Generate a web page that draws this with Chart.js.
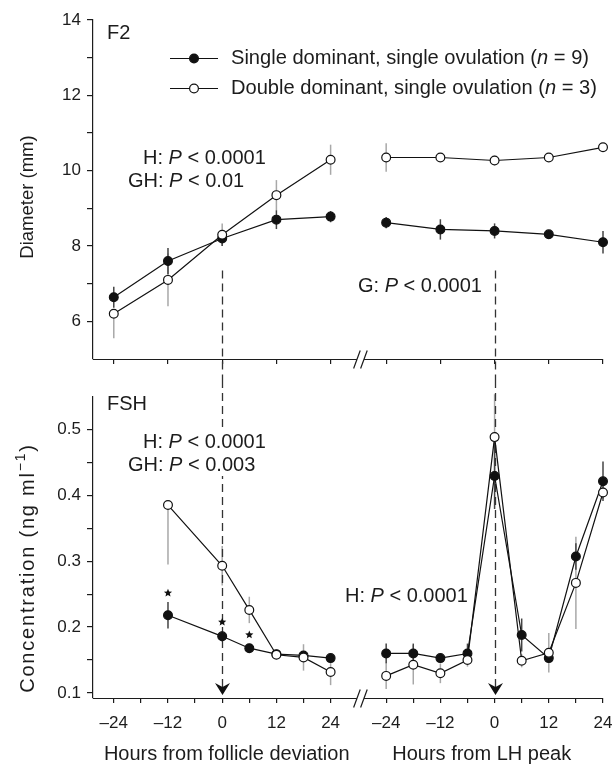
<!DOCTYPE html>
<html>
<head>
<meta charset="utf-8">
<script src="https://cdn.jsdelivr.net/npm/chart.js@4.4.0/dist/chart.umd.min.js"></script>
<style>
  html, body { margin: 0; padding: 0; background: #fff; }
  #wrap { width: 613px; height: 764px; }
  canvas { display: block; }
</style>
</head>
<body>
<div id="wrap">
  <canvas id="diamChart" width="613" height="380"></canvas>
  <canvas id="fshChart" width="613" height="384"></canvas>
</div>
<script>
// ---- F2 diameter (mm) ----
const diamHours = [-24, -12, 0, 12, 24];
const diamSingleDev = [6.64, 7.6, 8.2, 8.7, 8.78];
const diamSingleDevErr = [0.28, 0.35, 0.2, 0.25, 0.15];
const diamDoubleDev = [6.2, 7.1, 8.3, 9.35, 10.29];
const diamDoubleDevErr = [[0.65, 0], 0.7, 0.3, 0.4, 0.4];
const diamSingleLH = [8.62, 8.44, 8.4, 8.31, 8.1];
const diamSingleLHErr = [0.15, 0.27, 0.2, 0.1, 0.3];
const diamDoubleLH = [10.35, 10.35, 10.27, 10.35, 10.62];
const diamDoubleLHErr = [0.38, 0, 0.13, 0, 0];
const diamYTicks = [6, 7, 8, 9, 10, 11, 12, 13, 14];
const diamYLabels = ['6', '', '8', '', '10', '', '12', '', '14'];
const diamXTicks = [-24, -12, 0, 12, 24];

// ---- FSH concentration (ng/ml) ----
const fshHoursDev = [-12, 0, 6, 12, 18, 24];
const fshSingleDev = [0.218, 0.186, 0.168, 0.159, 0.157, 0.153];
const fshSingleDevErr = [0.02, 0.008, 0.006, 0.005, 0.005, 0.004];
const fshDoubleDev = [0.385, 0.293, 0.226, 0.158, 0.154, 0.132];
const fshDoubleDevErr = [[0.09, 0], 0.03, 0.02, 0.006, 0.02, 0.02];
const fshHoursLH = [-24, -18, -12, -6, 0, 6, 12, 18, 24];
const fshSingleLH = [0.16, 0.16, 0.153, 0.16, 0.429, 0.188, 0.153, 0.307, 0.421];
const fshSingleLHErr = [0.015, 0.015, 0.005, 0.015, 0.05, 0.025, 0.005, 0.02, 0.03];
const fshDoubleLH = [0.126, 0.143, 0.13, 0.15, 0.488, 0.149, 0.161, 0.267, 0.404];
const fshDoubleLHErr = [0.02, 0.03, 0.015, 0.01, 0.065, 0.01, 0.03, 0.07, 0.01];
const fshYTicks = [0.1, 0.15, 0.2, 0.25, 0.3, 0.35, 0.4, 0.45, 0.5];
const fshYLabels = ['0.1', '', '0.2', '', '0.3', '', '0.4', '', '0.5'];
const fshXTicks = [-24, -18, -12, -6, 0, 6, 12, 18, 24];
const fshStarHours = [-12, 0, 6]; // * over single-dominant points

const legendLabels = ['Single dominant, single ovulation', 'Double dominant, single ovulation'];
const legendN = [9, 3];

const FONT = "'Liberation Sans', Arial, Helvetica, sans-serif";
const INK = '#1c1c1c';
const LH_SHIFT = 60.3;   // LH-peak hours are drawn shifted right on the same x scale
const BREAK_H = 30.6;    // where the axis break sits
const X_MIN = -28.6, X_MAX = 84.3;

function pts(hours, vals, shift) {
  return hours.map((h, i) => ({ x: h + shift, y: vals[i] }));
}
function series(hDev, vDev, hLH, vLH) {
  return [...pts(hDev, vDev, 0), { x: BREAK_H, y: null }, ...pts(hLH, vLH, LH_SHIFT)];
}
function bothSides(ticks) {
  return [...ticks, ...ticks.map(h => h + LH_SHIFT)];
}
function hourLabel(v) {
  const h = Math.round(v > BREAK_H ? v - LH_SHIFT : v);
  if (h % 12 !== 0) return '';
  return h < 0 ? '\u2013' + Math.abs(h) : String(h);
}

function drawRuns(ctx, x, y, runs, size) {
  let cx = x;
  runs.forEach(([t, it]) => {
    ctx.font = (it ? 'italic ' : '') + size + 'px ' + FONT;
    ctx.fillText(t, cx, y);
    cx += ctx.measureText(t).width;
  });
  return cx - x;
}
function runsWidth(ctx, runs, size) {
  let w = 0;
  runs.forEach(([t, it]) => {
    ctx.font = (it ? 'italic ' : '') + size + 'px ' + FONT;
    w += ctx.measureText(t).width;
  });
  return w;
}
function pText(prefix, rest) {
  return [[prefix, false], ['P', true], [rest, false]];
}

// err entry: number (symmetric) or [down, up]
function drawErrBars(chart, hours, vals, errs, shift, color) {
  const { ctx, scales: { x, y } } = chart;
  ctx.save();
  ctx.strokeStyle = color;
  ctx.lineWidth = 1.5;
  hours.forEach((h, i) => {
    const e = errs[i];
    const [dn, up] = Array.isArray(e) ? e : [e, e];
    if (!dn && !up) return;
    const px = x.getPixelForValue(h + shift);
    ctx.beginPath();
    ctx.moveTo(px, y.getPixelForValue(vals[i] - dn));
    ctx.lineTo(px, y.getPixelForValue(vals[i] + up));
    ctx.stroke();
  });
  ctx.restore();
}

function drawDashed(chart, y0, y1) {
  const { ctx, scales: { x } } = chart;
  ctx.save();
  ctx.strokeStyle = '#333';
  ctx.lineWidth = 1.3;
  ctx.setLineDash([8, 5]);
  [0, LH_SHIFT].forEach(h => {
    const px = Math.round(x.getPixelForValue(h)) + 0.5;
    ctx.beginPath();
    ctx.moveTo(px, y0);
    ctx.lineTo(px, y1);
    ctx.stroke();
  });
  ctx.restore();
}

function drawBrokenAxis(chart) {
  const { ctx, chartArea: a, scales: { x } } = chart;
  const bx = x.getPixelForValue(BREAK_H);
  const y = a.bottom + 0.5;
  ctx.save();
  ctx.strokeStyle = INK;
  ctx.lineWidth = 1.2;
  ctx.beginPath();
  ctx.moveTo(a.left, y); ctx.lineTo(bx - 3.5, y);
  ctx.moveTo(bx + 3.5, y); ctx.lineTo(a.right, y);
  [-3.5, 3.5].forEach(d => {
    ctx.moveTo(bx + d - 3.3, y + 9);
    ctx.lineTo(bx + d + 3.3, y - 9);
  });
  ctx.stroke();
  ctx.restore();
}

function drawYTitle(ctx, cx, cy, size, spacing, main, sup, tail) {
  ctx.save();
  ctx.translate(cx, cy);
  ctx.rotate(-Math.PI / 2);
  ctx.fillStyle = INK;
  ctx.textBaseline = 'middle';
  ctx.textAlign = 'left';
  ctx.letterSpacing = spacing + 'px';
  ctx.font = size + 'px ' + FONT;
  const wm = ctx.measureText(main).width;
  const wt = tail ? ctx.measureText(tail).width : 0;
  ctx.font = '14px ' + FONT;
  const ws = sup ? ctx.measureText(sup).width : 0;
  const x0 = -(wm + ws + wt) / 2;
  ctx.font = size + 'px ' + FONT;
  ctx.fillText(main, x0, 0);
  if (sup) {
    ctx.font = '14px ' + FONT;
    ctx.fillText(sup, x0 + wm, -7);
    ctx.font = size + 'px ' + FONT;
    ctx.fillText(tail, x0 + wm + ws, 0);
  }
  ctx.letterSpacing = '0px';
  ctx.restore();
}

function star(ctx, cx, cy, r) {
  ctx.beginPath();
  for (let k = 0; k < 10; k++) {
    const rr = k % 2 ? r * 0.45 : r;
    const ang = -Math.PI / 2 + k * Math.PI / 5;
    ctx.lineTo(cx + rr * Math.cos(ang), cy + rr * Math.sin(ang));
  }
  ctx.closePath();
  ctx.fill();
}

function lineSet(data, filled, order) {
  return {
    data: data,
    order: order,
    clip: false,
    borderColor: '#111',
    borderWidth: 1.2,
    pointRadius: 4.4,
    pointHoverRadius: 4.4,
    pointBorderWidth: 1.2,
    pointBorderColor: '#111',
    pointBackgroundColor: filled ? '#111' : '#fff',
    spanGaps: false,
    tension: 0
  };
}

function baseOptions(yMin, yMax, yTicks, yLabels, xTicks, padTop, xHeight, showX) {
  return {
    responsive: false,
    animation: false,
    devicePixelRatio: 1,
    layout: { padding: { top: padTop, right: 10, left: 0, bottom: 0 } },
    plugins: { legend: { display: false }, tooltip: { enabled: false } },
    scales: {
      x: {
        type: 'linear', min: X_MIN, max: X_MAX,
        afterBuildTicks: s => { s.ticks = bothSides(xTicks).map(v => ({ value: v })); },
        afterFit: s => { s.height = xHeight; s.paddingLeft = 0; s.paddingRight = 0; },
        ticks: {
          display: showX, autoSkip: false, maxRotation: 0, padding: 10,
          color: INK, font: { family: FONT, size: 17 },
          callback: v => hourLabel(v)
        },
        grid: { drawOnChartArea: false, tickLength: 5, color: INK, lineWidth: 1.2 },
        border: { display: false }
      },
      y: {
        min: yMin, max: yMax,
        afterBuildTicks: s => { s.ticks = yTicks.map(v => ({ value: v })); },
        afterFit: s => { s.width = 93; },
        ticks: {
          padding: 6, color: INK, font: { family: FONT, size: 17 },
          callback: (v, i) => yLabels[i]
        },
        grid: { drawOnChartArea: false, tickLength: 6, color: INK, lineWidth: 1.2 },
        border: { display: true, color: INK, width: 1.2 }
      }
    }
  };
}

// ---------- top panel ----------
const diamDecor = {
  id: 'diamDecor',
  beforeDatasetsDraw(chart) {
    drawErrBars(chart, diamHours, diamDoubleDev, diamDoubleDevErr, 0, '#a8a8a8');
    drawErrBars(chart, diamHours, diamDoubleLH, diamDoubleLHErr, LH_SHIFT, '#a8a8a8');
    drawErrBars(chart, diamHours, diamSingleDev, diamSingleDevErr, 0, '#444');
    drawErrBars(chart, diamHours, diamSingleLH, diamSingleLHErr, LH_SHIFT, '#444');
    drawDashed(chart, chart.scales.y.getPixelForValue(7.35), chart.height);
  },
  afterDraw(chart) {
    const { ctx } = chart;
    drawBrokenAxis(chart);
    ctx.save();
    ctx.fillStyle = INK;
    ctx.textBaseline = 'middle';
    ctx.font = '20px ' + FONT;
    ctx.fillText('F2', 107, 33);
    // legend
    [0, 1].forEach(i => {
      const ly = 58 + i * 30;
      ctx.strokeStyle = '#111';
      ctx.lineWidth = 1.2;
      ctx.beginPath(); ctx.moveTo(170, ly + 0.5); ctx.lineTo(218, ly + 0.5); ctx.stroke();
      ctx.beginPath(); ctx.arc(194, ly + 0.5, 4.4, 0, Math.PI * 2);
      ctx.fillStyle = i === 0 ? '#111' : '#fff';
      ctx.fill(); ctx.stroke();
      ctx.fillStyle = INK;
      drawRuns(ctx, 231, ly, [[legendLabels[i] + ' (', false], ['n', true], [' = ' + legendN[i] + ')', false]], 20.1);
    });
    drawRuns(ctx, 143, 158, pText('H: ', ' < 0.0001'), 20);
    drawRuns(ctx, 128, 181, pText('GH: ', ' < 0.01'), 20);
    drawRuns(ctx, 358, 286, pText('G: ', ' < 0.0001'), 20);
    ctx.restore();
    drawYTitle(ctx, 28, 197, 18.5, 0, 'Diameter (mm)');
  }
};

new Chart(document.getElementById('diamChart'), {
  type: 'line',
  data: {
    datasets: [
      lineSet(series(diamHours, diamSingleDev, diamHours, diamSingleLH), true, 1),
      lineSet(series(diamHours, diamDoubleDev, diamHours, diamDoubleLH), false, 0)
    ]
  },
  options: baseOptions(5, 14, diamYTicks, diamYLabels, diamXTicks, 20, 21, false),
  plugins: [diamDecor]
});

// ---------- bottom panel ----------
const fshDecor = {
  id: 'fshDecor',
  beforeDatasetsDraw(chart) {
    drawErrBars(chart, fshHoursDev, fshDoubleDev, fshDoubleDevErr, 0, '#a8a8a8');
    drawErrBars(chart, fshHoursLH, fshDoubleLH, fshDoubleLHErr, LH_SHIFT, '#a8a8a8');
    drawErrBars(chart, fshHoursDev, fshSingleDev, fshSingleDevErr, 0, '#444');
    drawErrBars(chart, fshHoursLH, fshSingleLH, fshSingleLHErr, LH_SHIFT, '#444');
    drawDashed(chart, 0, chart.chartArea.bottom - 10);
  },
  afterDraw(chart) {
    const { ctx, chartArea: a, scales: { x, y } } = chart;
    drawBrokenAxis(chart);
    ctx.save();
    ctx.fillStyle = '#111';
    // arrowheads at the foot of the dashed lines
    [0, LH_SHIFT].forEach(h => {
      const px = Math.round(x.getPixelForValue(h)) + 0.5;
      const tip = a.bottom - 3;
      ctx.beginPath();
      ctx.moveTo(px - 7.5, tip - 12);
      ctx.lineTo(px, tip - 8);
      ctx.lineTo(px + 7.5, tip - 12);
      ctx.lineTo(px, tip);
      ctx.closePath();
      ctx.fill();
    });
    // asterisks
    fshStarHours.forEach(h => {
      const i = fshHoursDev.indexOf(h);
      const top = Math.min(y.getPixelForValue(fshSingleDev[i] + fshSingleDevErr[i]),
                           y.getPixelForValue(fshSingleDev[i]) - 4.4);
      star(ctx, x.getPixelForValue(h), top - 9, 4.3);
    });
    ctx.fillStyle = INK;
    ctx.textBaseline = 'middle';
    ctx.font = '20px ' + FONT;
    ctx.fillText('FSH', 107, 24);
    const notes = [
      [143, 62, pText('H: ', ' < 0.0001')],
      [128, 85, pText('GH: ', ' < 0.003')],
      [345, 216, pText('H: ', ' < 0.0001')]
    ];
    notes.forEach(([nx, ny, runs]) => {
      const w = runsWidth(ctx, runs, 20);
      ctx.fillStyle = '#fff';
      ctx.fillRect(nx - 2, ny - 11, w + 4, 22);
      ctx.fillStyle = INK;
      drawRuns(ctx, nx, ny, runs, 20);
    });
    // x titles, one per segment
    ctx.textAlign = 'center';
    ctx.textBaseline = 'alphabetic';
    ctx.font = '20px ' + FONT;
    const midL = (a.left + x.getPixelForValue(BREAK_H)) / 2;
    const midR = (x.getPixelForValue(BREAK_H) + a.right) / 2;
    ctx.fillText('Hours from follicle deviation', midL, 380);
    ctx.fillText('Hours from LH peak', midR, 380);
    ctx.restore();
    drawYTitle(ctx, 28, 188, 20, 1.8, 'Concentration (ng ml', '\u22121', ')');
  }
};

new Chart(document.getElementById('fshChart'), {
  type: 'line',
  data: {
    datasets: [
      lineSet(series(fshHoursDev, fshSingleDev, fshHoursLH, fshSingleLH), true, 1),
      lineSet(series(fshHoursDev, fshDoubleDev, fshHoursLH, fshDoubleLH), false, 0)
    ]
  },
  options: baseOptions(0.0925, 0.55, fshYTicks, fshYLabels, fshXTicks, 13, 66, true),
  plugins: [fshDecor]
});
</script>
</body>
</html>
